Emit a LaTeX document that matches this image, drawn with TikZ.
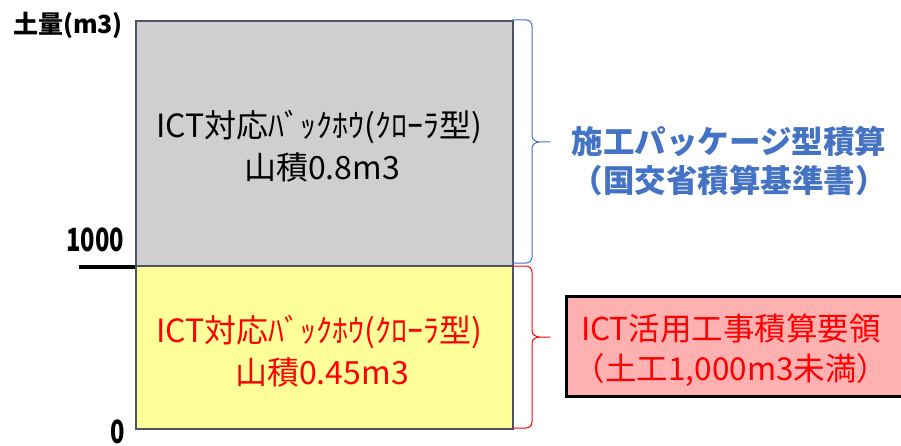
\documentclass[tikz,border=0pt]{standalone}
\usepackage{fontspec}
\usepackage{graphicx}
\newfontfamily\jp{Noto Sans CJK JP}
\usetikzlibrary{calc}
\definecolor{grayfill}{HTML}{D0CECE}
\definecolor{yellowfill}{HTML}{FFFF99}
\definecolor{boxedge}{HTML}{4A5568}
\definecolor{bluetxt}{HTML}{4472C4}
\definecolor{redtxt}{HTML}{FF0000}
\definecolor{pinkfill}{HTML}{FFB0B0}
\tikzset{
  x=1pt, y=-1pt,
  barbox/.style={draw=boxedge, line width=2pt, anchor=north west, inner sep=0pt},
  boxtext/.style={font=\jp\fontsize{32}{36}\selectfont, inner sep=0pt, anchor=center},
  axistext/.style={font=\jp\bfseries\fontsize{25}{30}\selectfont, inner sep=0pt},
  digittext/.style={font=\jp\bfseries\fontsize{32}{36}\selectfont, inner sep=0pt},
  bracestyle/.style={line width=1pt, line join=round},
  sidetext/.style={font=\jp\bfseries\fontsize{31.5}{36}\selectfont, text=bluetxt, inner sep=0pt},
  redtext/.style={font=\jp\fontsize{31.5}{36}\selectfont, text=redtxt, inner sep=0pt}
}
\begin{document}
\begin{tikzpicture}
\useasboundingbox (0,0) rectangle (901,446);
\clip (0,0) rectangle (901,446);
% boxes
\node[barbox, fill=grayfill, minimum width=377pt, minimum height=245pt] (upper) at (135,20) {};
\node[barbox, fill=yellowfill, minimum width=377pt, minimum height=163pt] (lower) at (135,265) {};
% axis tick
\coordinate (tickL) at (79,267);
\draw[line width=4pt] (tickL) -- (tickL -| lower.north west);
% axis labels
\node[axistext, anchor=center] (unit) at (68,25) {土量(m3)};
\node[digittext, anchor=center] (k1000) at (95,240) {\scalebox{0.74}[1]{1000}};
\node[digittext, anchor=center] (zero) at (118,432) {\scalebox{0.74}[1]{0}};
% box texts
\node[boxtext] (up1) at (319,127) {ICT対応ﾊﾞｯｸﾎｳ(ｸﾛｰﾗ型)};
\node[boxtext] (up2) at (322,167) {山積0.8m3};
\node[boxtext, text=redtxt] (lo1) at (319,332) {ICT対応ﾊﾞｯｸﾎｳ(ｸﾛｰﾗ型)};
\node[boxtext, text=redtxt] (lo2) at (322,372) {山積0.45m3};
% blue brace
\coordinate (b1) at (512,20);
\coordinate (b2) at (512,263);
\coordinate (btip) at (550,142);
\draw[bracestyle, draw=bluetxt]
  (b1) -- (526,20) to[out=0,in=90] (532,26) -- (532,136)
  to[out=-90,in=180] (540,142) -- (btip) -- (540,142)
  to[out=180,in=90] (532,148) -- (532,257) to[out=-90,in=0] (526,263) -- (b2);
% red brace
\coordinate (r1) at (512,266);
\coordinate (r2) at (512,428);
\coordinate (rtip) at (550,337);
\draw[bracestyle, draw=redtxt]
  (r1) -- (526,266) to[out=0,in=90] (532,272) -- (532,331)
  to[out=-90,in=180] (540,337) -- (rtip) -- (540,337)
  to[out=180,in=90] (532,343) -- (532,422) to[out=-90,in=0] (526,428) -- (r2);
% blue side text
\node[sidetext] (pkg1) at (729,142) {施工パッケージ型積算};
\node[sidetext] (pkg2) at (729,180) {（国交省積算基準書）};
% red box
\draw[line width=3pt, fill=pinkfill] (566,296) rectangle (910,396);
\node[redtext] (ict1) at (731,329) {ICT活用工事積算要領};
\node[redtext] (ict2) at (731,370) {（土工1,000m3未満）};
\end{tikzpicture}
\end{document}
